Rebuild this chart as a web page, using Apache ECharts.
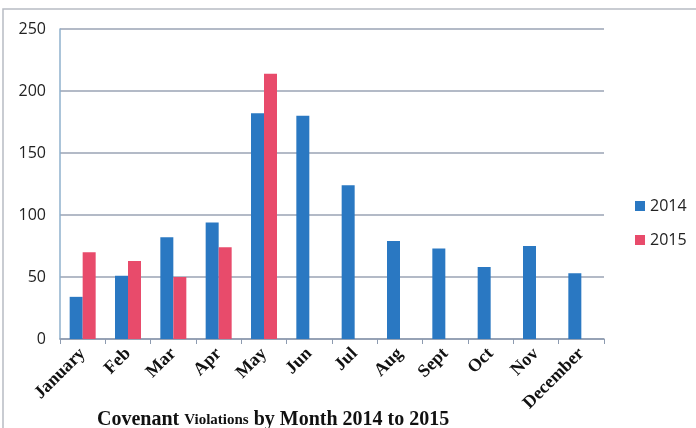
<!DOCTYPE html>
<html>
<head>
<meta charset="utf-8">
<script src="https://cdn.jsdelivr.net/npm/echarts@6/dist/echarts.min.js"></script>
<style>
html, body { margin: 0; padding: 0; background: #fff; }
#main { width: 696px; height: 428px; }
</style>
</head>
<body>
<div id="main"></div>
<script>
// data
var months = ['January', 'Feb', 'Mar', 'Apr', 'May', 'Jun', 'Jul', 'Aug', 'Sept', 'Oct', 'Nov', 'December'];
var data2014 = [34, 51, 82, 94, 182, 180, 124, 79, 73, 58, 75, 53];
var data2015 = [70, 63, 50, 74, 214, null, null, null, null, null, null, null];
var yTicks = [0, 50, 100, 150, 200, 250];

var chart = echarts.init(document.getElementById('main'));
var option = {
    animation: false,
    color: ['#2a78c2', '#e84b6b'],
    title: {
        text: '{big|Covenant }{small|Violations}{big| by Month 2014 to 2015}',
        left: 92,
        top: 405,
        textStyle: {
            rich: {
                big: { fontFamily: 'Liberation Serif', fontWeight: 'bold', fontSize: 20, color: '#111' },
                small: { fontFamily: 'Liberation Serif', fontWeight: 'bold', fontSize: 15, color: '#111' }
            }
        }
    },
    legend: {
        orient: 'vertical',
        left: 630,
        top: 193,
        itemWidth: 10,
        itemHeight: 10,
        itemGap: 18,
        icon: 'rect',
        textStyle: { fontFamily: 'Open Sans', fontSize: 16, color: '#222' },
        data: ['2014', '2015']
    },
    grid: {
        left: 60,
        top: 29,
        width: 544,
        height: 310
    },
    xAxis: {
        type: 'category',
        data: months,
        axisLine: { lineStyle: { color: '#8d9bb0', width: 1.5 } },
        axisTick: { show: true, length: 5, lineStyle: { color: '#8d9bb0' } },
        axisLabel: {
            rotate: 45,
            interval: 0,
            margin: 12,
            fontFamily: 'Liberation Serif',
            fontWeight: 'bold',
            fontSize: 18,
            color: '#111'
        }
    },
    yAxis: {
        type: 'value',
        min: yTicks[0],
        max: yTicks[yTicks.length - 1],
        interval: 50,
        axisLine: { show: true, lineStyle: { color: '#8fb0cc', width: 1.5 } },
        axisTick: { show: false },
        splitLine: { lineStyle: { color: '#9aa3b5', width: 1.5 } },
        axisLabel: { fontFamily: 'Open Sans', fontSize: 16, color: '#222', margin: 14 }
    },
    graphic: [{
        type: 'rect',
        shape: { x: 3, y: 9, width: 700, height: 430 },
        style: { fill: 'none', stroke: '#b8bcc4', lineWidth: 1.5 },
        silent: true
    }],
    series: [
        { name: '2014', type: 'bar', data: data2014, barWidth: 13, barGap: '0%' },
        { name: '2015', type: 'bar', data: data2015, barWidth: 13, barGap: '0%' }
    ]
};
chart.setOption(option);
</script>
</body>
</html>
